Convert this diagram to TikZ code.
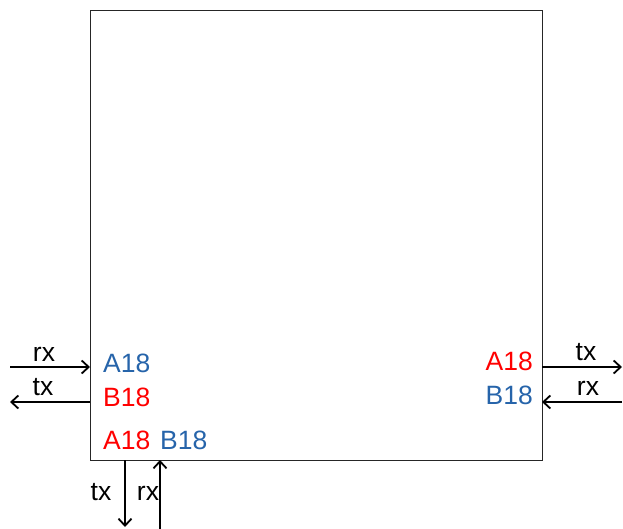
\documentclass[tikz,border=0pt]{standalone}
\usepackage{fontspec}
\setmainfont{Liberation Sans}
\usetikzlibrary{arrows.meta}
\definecolor{myblue}{RGB}{38,100,170}
\definecolor{myred}{RGB}{255,0,0}
\tikzset{
  lbl/.style={inner sep=0pt, font=\fontsize{26.5}{30}\selectfont},
  conn/.style={line width=1.1pt, -{Straight Barb[length=7pt,width=13pt,line width=1.8pt]}},
  box/.style={draw=black!85, line width=1pt}
}
\begin{document}
\begin{tikzpicture}[x=1pt,y=-1pt]
\useasboundingbox (0,0) rectangle (623,529);
\draw[box] (90.5,10.5) rectangle (542,460);
% coordinates
\coordinate (l1a) at (10,367); \coordinate (l1b) at (90,367);
\coordinate (l2a) at (90,402); \coordinate (l2b) at (10,402);
\coordinate (r1a) at (542,367); \coordinate (r1b) at (622,367);
\coordinate (r2a) at (622,402); \coordinate (r2b) at (542,402);
\coordinate (b1a) at (125,460); \coordinate (b1b) at (125,527);
\coordinate (b2a) at (160,529); \coordinate (b2b) at (160,460);
\draw[conn] (l1a) -- (l1b);
\draw[conn] (l2a) -- (l2b);
\draw[conn] (r1a) -- (r1b);
\draw[conn] (r2a) -- (r2b);
\draw[conn] (b1a) -- (b1b);
\draw[conn] (b2a) -- (b2b);
% labels
\node[lbl, anchor=base] (rxl) at (44,361) {rx};
\node[lbl, anchor=base] (txl) at (43,395) {tx};
\node[lbl, anchor=base] (txr) at (586,360) {tx};
\node[lbl, anchor=base] (rxr) at (588,395) {rx};
\node[lbl, anchor=base] (txb) at (101,500) {tx};
\node[lbl, anchor=base] (rxb) at (148,500) {rx};
\node[lbl, anchor=base west, text=myblue] (a18l) at (103,372) {A18};
\node[lbl, anchor=base west, text=myred] (b18l) at (103,406) {B18};
\node[lbl, anchor=base west, text=myred] (a18b) at (103,449) {A18};
\node[lbl, anchor=base west, text=myblue] (b18b) at (160,449) {B18};
\node[lbl, anchor=base east, text=myred] (a18r) at (533,370) {A18};
\node[lbl, anchor=base east, text=myblue] (b18r) at (533,404) {B18};
\end{tikzpicture}
\end{document}
